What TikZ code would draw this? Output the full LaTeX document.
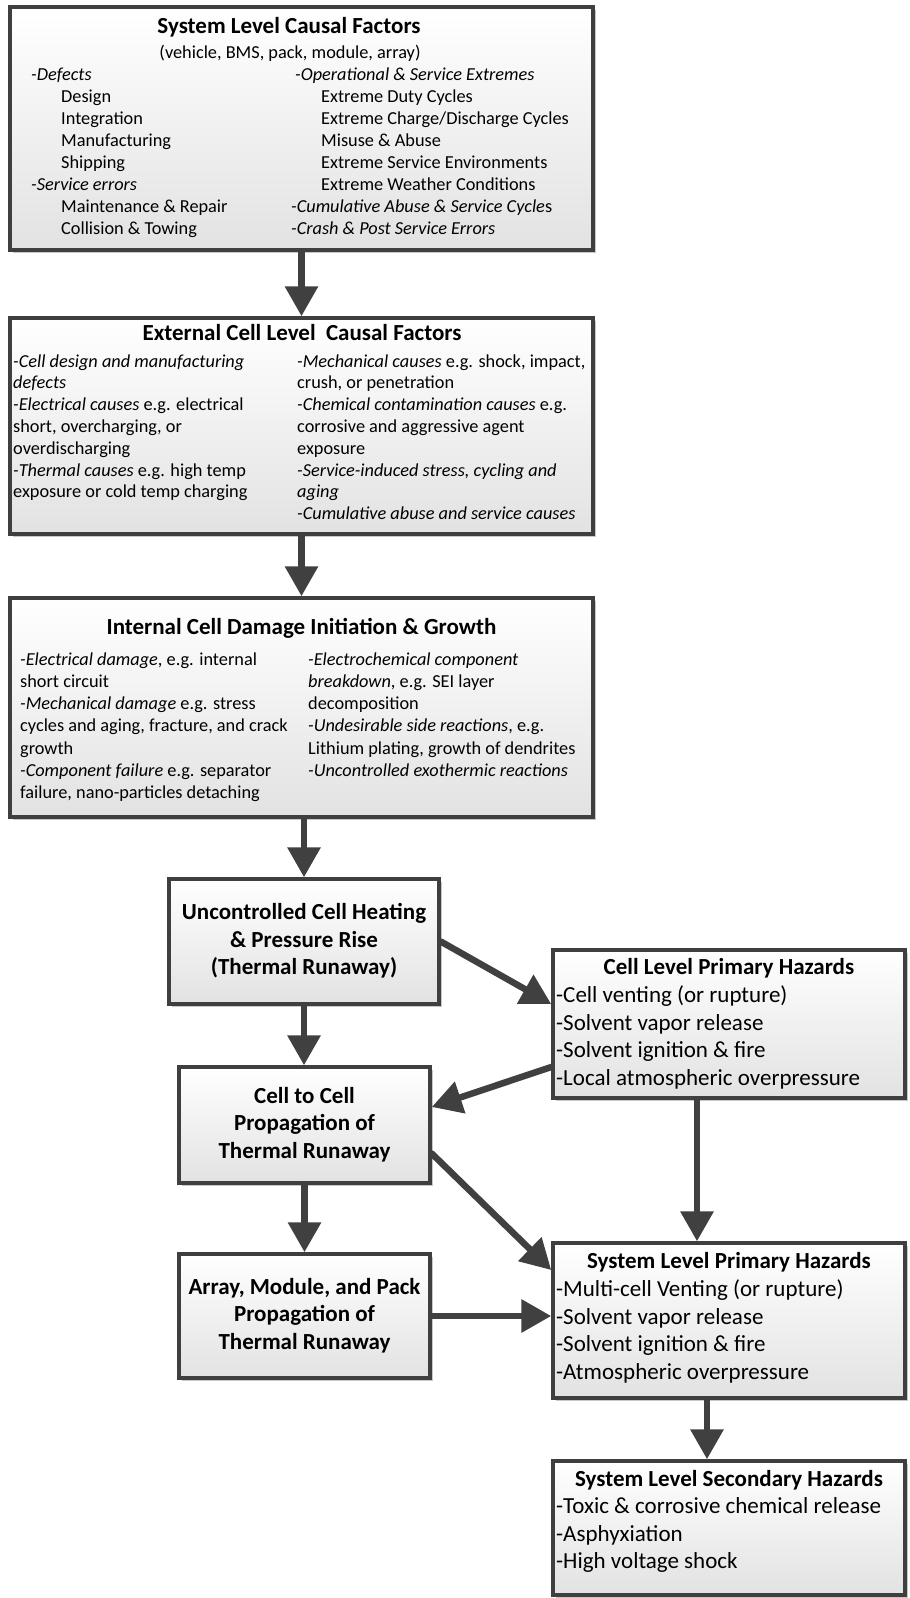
\documentclass[tikz,border=0pt]{standalone}
\usepackage{fontspec}
\setmainfont{Carlito}
\usetikzlibrary{arrows.meta,shadows}
\definecolor{edgec}{HTML}{3F3F3F}
\definecolor{arrowc}{HTML}{404040}
\definecolor{fillbot}{HTML}{E2E2E2}
\begin{document}
\begin{tikzpicture}[x=1pt,y=-1pt]
\tikzset{
 panel/.style={draw=edgec, line width=3.5pt, top color=white, bottom color=fillbot, inner sep=0pt,
   drop shadow={shadow xshift=2.5pt, shadow yshift=-2.5pt, opacity=0.22, fill=black}},
 arr/.style={draw=arrowc, line width=6.5pt, line cap=round, -{Triangle[width=32pt,length=30pt]}},
 listtext/.style={inner sep=0pt, align=left, anchor=north west},
 titletext/.style={inner sep=0pt, anchor=base, font=\fontsize{23}{27.5}\selectfont\bfseries},
 bodysmall/.style={font=\fontsize{18.3}{22.1}\selectfont},
 bodylarge/.style={font=\fontsize{23}{27.5}\selectfont},
 centertext/.style={inner sep=0pt, align=center, font=\fontsize{23}{27.5}\selectfont\bfseries},
}
\useasboundingbox (0,0) rectangle (910,1598);

% boxes
\node[panel, minimum width=583pt, minimum height=243pt] (b1) at (301.5,128.5) {};
\node[panel, minimum width=583pt, minimum height=216pt] (b2) at (301.5,426) {};
\node[panel, minimum width=583pt, minimum height=219pt] (b3) at (301.5,707.5) {};
\node[panel, minimum width=270pt, minimum height=125pt] (b4) at (304,941.5) {};
\node[panel, minimum width=251pt, minimum height=116pt] (b5) at (304.5,1125) {};
\node[panel, minimum width=251pt, minimum height=124pt] (b6) at (304.5,1316) {};
\node[panel, minimum width=352pt, minimum height=148pt] (cp) at (729,1024) {};
\node[panel, minimum width=352pt, minimum height=155pt] (sp) at (729,1320.5) {};
\node[panel, minimum width=352pt, minimum height=134pt] (sec) at (729,1528) {};

% box 1 text
\node[titletext] (t1) at (289,33.5) {System Level Causal Factors};
\node[inner sep=0pt, anchor=base, bodysmall] (s1) at (290,58) {(vehicle, BMS, pack, module, array)};
\node[listtext, bodysmall] (l1) at (31,64.5) {\strut\textit{-Defects}\\
\hspace*{30pt}Design\\
\hspace*{30pt}Integration\\
\hspace*{30pt}Manufacturing\\
\hspace*{30pt}Shipping\\
\textit{-Service errors}\\
\hspace*{30pt}Maintenance \& Repair\\
\hspace*{30pt}Collision \& Towing};
\node[listtext, bodysmall] (r1) at (291,64.5) {\strut\hspace*{4pt}\textit{-Operational \& Service Extremes}\\
\hspace*{30pt}Extreme Duty Cycles\\
\hspace*{30pt}Extreme Charge/Discharge Cycles\\
\hspace*{30pt}Misuse \& Abuse\\
\hspace*{30pt}Extreme Service Environments\\
\hspace*{30pt}Extreme Weather Conditions\\
\textit{-Cumulative Abuse \& Service Cycle}s\\
\textit{-Crash \& Post Service Errors}};

% box 2 text
\node[titletext] (t2) at (302,340) {External Cell Level\ \ Causal Factors};
\node[listtext, font=\fontsize{18.3}{21.8}\selectfont] (l2) at (13,351.7) {\strut\textit{-Cell design and manufacturing}\\
\textit{defects}\\
\textit{-Electrical causes} e.g. electrical\\
short, overcharging, or\\
overdischarging\\
\textit{-Thermal causes} e.g. high temp\\
exposure or cold temp charging};
\node[listtext, font=\fontsize{18.3}{21.8}\selectfont] (r2) at (297,351.7) {\strut\textit{-Mechanical causes} e.g. shock, impact,\\
crush, or penetration\\
\textit{-Chemical contamination causes} e.g.\\
corrosive and aggressive agent\\
exposure\\
\textit{-Service-induced stress, cycling and}\\
\textit{aging}\\
\textit{-Cumulative abuse and service causes}};

% box 3 text
\node[titletext] (t3) at (301.5,634) {Internal Cell Damage Initiation \& Growth};
\node[listtext, font=\fontsize{18.3}{22.2}\selectfont] (l3) at (20,649.5) {\strut\textit{-Electrical damage}, e.g. internal\\
short circuit\\
\textit{-Mechanical damage} e.g. stress\\
cycles and aging, fracture, and crack\\
growth\\
\textit{-Component failure} e.g. separator\\
failure, nano-particles detaching};
\node[listtext, font=\fontsize{18.3}{22.2}\selectfont] (r3) at (308,649.5) {\strut\textit{-Electrochemical component}\\
\textit{breakdown}, e.g. SEI layer\\
decomposition\\
\textit{-Undesirable side reactions}, e.g.\\
Lithium plating, growth of dendrites\\
\textit{-Uncontrolled exothermic reactions}};

% small boxes text
\node[centertext] (x4) at (b4.center) {\strut Uncontrolled Cell Heating\\ \& Pressure Rise\\ (Thermal Runaway)\strut};
\node[centertext] (x5) at (b5.center) {\strut Cell to Cell\\ Propagation of\\ Thermal Runaway\strut};
\node[centertext] (x6) at (b6.center) {\strut Array, Module, and Pack\\ Propagation of\\ Thermal Runaway\strut};

% hazard boxes text
\node[titletext] (tcp) at (729,974.5) {Cell Level Primary Hazards};
\node[listtext, bodylarge] (lcp) at (556,983.25) {\strut -Cell venting (or rupture)\\
-Solvent vapor release\\
-Solvent ignition \& fire\\
-Local atmospheric overpressure};
\node[titletext] (tsp) at (729,1268.5) {System Level Primary Hazards};
\node[listtext, bodylarge] (lsp) at (556,1277.25) {\strut -Multi-cell Venting (or rupture)\\
-Solvent vapor release\\
-Solvent ignition \& fire\\
-Atmospheric overpressure};
\node[titletext] (tsec) at (729,1486.5) {System Level Secondary Hazards};
\node[listtext, bodylarge] (lsec) at (556,1494.25) {\strut -Toxic \& corrosive chemical release\\
-Asphyxiation\\
-High voltage shock};

% arrows
\draw[arr] (b1.south) -- (b2.north);
\draw[arr] (b2.south) -- (b3.north);
\draw[arr] (b3.south -| b4.north) -- (b4.north);
\draw[arr] (b4.east) -- ([yshift=20pt]cp.west);
\draw[arr] (b4.south) -- (b4.south |- b5.north);
\draw[arr] ([yshift=-43pt]cp.west) -- ([yshift=18pt]b5.east);
\draw[arr] ([xshift=-32pt]cp.south) -- ([xshift=-32pt]sp.north);
\draw[arr] ([yshift=-28.5pt]b5.east) -- ([yshift=50.5pt]sp.west);
\draw[arr] (b5.south) -- (b6.north);
\draw[arr] (b6.east) -- (b6.east -| sp.west);
\draw[arr] ([xshift=-22pt]sp.south) -- ([xshift=-22pt]sec.north);
\end{tikzpicture}
\end{document}
